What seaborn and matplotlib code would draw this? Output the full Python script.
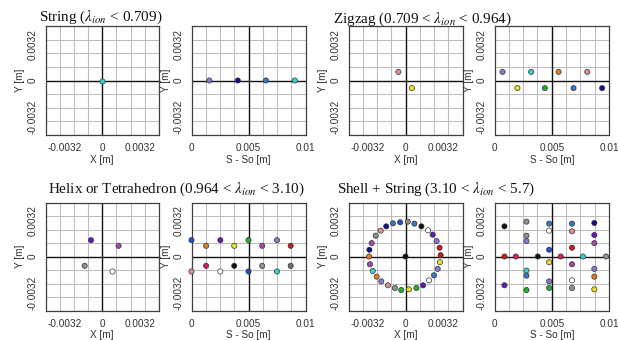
import numpy as np
import pandas as pd
import matplotlib
matplotlib.use("Agg")
import matplotlib.pyplot as plt
from matplotlib.ticker import MultipleLocator, FixedLocator
import seaborn as sns

# ---------------- colours ----------------
palette = {
    "navy": "#10108c", "blue": "#1f4fd0", "steel": "#3478c4", "cyan": "#34d2d2",
    "lavender": "#8878d0", "violet": "#6418b0", "purple": "#a844b0",
    "rose": "#e28c8c", "crimson": "#d2206c", "red": "#d01818",
    "orange": "#e27a20", "yellow": "#e8e020", "green": "#20b030",
    "black": "#101010", "white": "#ffffff", "gray": "#909090", "dgray": "#6e6e6e",
}

titles = ["String", "Zigzag", "Helix or Tetrahedron", "Shell + String"]
title_ranges = [r"($\lambda_{ion}$ < 0.709)", r"(0.709 < $\lambda_{ion}$ < 0.964)",
                r"(0.964 < $\lambda_{ion}$ < 3.10)", r"(3.10 < $\lambda_{ion}$ < 5.7)"]

# ---------------- panel 1: String ----------------
p1_xy_x = [0.0]
p1_xy_y = [0.0]
p1_xy_c = ["cyan"]
p1_s_x = [0.00156, 0.00406, 0.00653, 0.00906]
p1_s_y = [0.0, 0.0, 0.0, 0.0]
p1_s_c = ["lavender", "navy", "steel", "cyan"]

# ---------------- panel 2: Zigzag ----------------
p2_xy_x = [-0.0006, 0.00053]
p2_xy_y = [0.00076, -0.00067]
p2_xy_c = ["rose", "yellow"]
p2_s_x = [0.0007, 0.0020, 0.0032, 0.0044, 0.0056, 0.0069, 0.0081, 0.0094]
p2_s_y = [0.00076, -0.00067, 0.00076, -0.00067, 0.00076, -0.00067, 0.00076, -0.00067]
p2_s_c = ["lavender", "yellow", "cyan", "green", "orange", "steel", "rose", "navy"]

# ---------------- panel 3: Helix ----------------
p3_xy_x = [-0.00095, 0.00138, -0.00149, 0.00087]
p3_xy_y = [0.00145, 0.00095, -0.00083, -0.00133]
p3_xy_c = ["violet", "purple", "gray", "white"]
p3_s_x = [0.0, 0.00253, 0.005, 0.0075,
          0.00128, 0.00375, 0.0062, 0.0087,
          0.00128, 0.00375, 0.0062, 0.0087,
          0.0, 0.00253, 0.005, 0.0075]
p3_s_y = [0.00145, 0.00145, 0.00145, 0.00145,
          0.00095, 0.00095, 0.00095, 0.00095,
          -0.00083, -0.00083, -0.00083, -0.00083,
          -0.00133, -0.00133, -0.00133, -0.00133]
p3_s_c = ["blue", "violet", "green", "lavender",
          "orange", "yellow", "purple", "red",
          "crimson", "black", "gray", "dgray",
          "rose", "white", "blue", "cyan"]

# ---------------- panel 4: Shell + String ----------------
p4_xy_x = [0.000195, 0.00075, 0.00134, 0.0019, 0.00229, 0.00262, 0.00287, 0.00296,
           0.0029, 0.00271, 0.0024, 0.00198, 0.00148, 0.00092, 0.00028, -0.00036,
           -0.00089, -0.00148, -0.00204, -0.00243, -0.00276, -0.00299, -0.00307,
           -0.00304, -0.00285, -0.00251, -0.00209, -0.00162, -0.00106, -0.00045, 0.0]
p4_xy_y = [0.0031, 0.00292, 0.00268, 0.00233, 0.00194, 0.00137, 0.00078, 0.00012,
           -0.00051, -0.0011, -0.00167, -0.00212, -0.00256, -0.0028, -0.00292, -0.00298,
           -0.0028, -0.00256, -0.00221, -0.00179, -0.00128, -0.00069, 0.0,
           0.0006, 0.00119, 0.00185, 0.0023, 0.00268, 0.00295, 0.00304, 0.0]
p4_xy_c = ["gray", "steel", "black", "white", "violet", "lavender", "red", "red",
           "yellow", "lavender", "steel", "white", "violet", "green", "yellow", "green",
           "gray", "rose", "lavender", "orange", "cyan", "purple", "orange",
           "navy", "purple", "gray", "rose", "navy", "steel", "blue", "black"]
p4_s_x = [0.00087, 0.00087, 0.00087,
          0.00186,
          0.00279, 0.00279, 0.00279, 0.00279, 0.00279, 0.00279,
          0.00378,
          0.00477, 0.00477, 0.00477, 0.00477, 0.00477, 0.00477,
          0.00578,
          0.00677, 0.00677, 0.00677, 0.00677, 0.00677, 0.00677,
          0.00773,
          0.00872, 0.00872, 0.00872, 0.00872, 0.00872, 0.00872,
          0.00974]
p4_s_y = [0.00268, 0.0, -0.00256,
          0.0,
          0.0031, 0.00185, 0.00137, -0.00125, -0.0017, -0.00298,
          0.0,
          0.00292, 0.0023, 0.0006, -0.00051, -0.00221, -0.0028,
          0.0,
          0.00292, 0.00224, 0.00078, -0.00069, -0.00212, -0.0028,
          0.0,
          0.00298, 0.00191, 0.00119, -0.0011, -0.00179, -0.00292,
          0.0]
p4_s_c = ["black", "red", "violet",
          "crimson",
          "gray", "gray", "lavender", "cyan", "steel", "green",
          "black",
          "steel", "white", "blue", "yellow", "lavender", "green",
          "crimson",
          "steel", "rose", "red", "purple", "white", "gray",
          "cyan",
          "navy", "violet", "purple", "lavender", "orange", "yellow",
          "gray"]

xy_ticks = [-0.0032, 0.0, 0.0032]
xy_ticklabels = ["-0.0032", "0", "0.0032"]
s_ticks = [0.0, 0.005, 0.01]
s_ticklabels = ["0", "0.005", "0.01"]

panels = [
    (p1_xy_x, p1_xy_y, p1_xy_c, p1_s_x, p1_s_y, p1_s_c),
    (p2_xy_x, p2_xy_y, p2_xy_c, p2_s_x, p2_s_y, p2_s_c),
    (p3_xy_x, p3_xy_y, p3_xy_c, p3_s_x, p3_s_y, p3_s_c),
    (p4_xy_x, p4_xy_y, p4_xy_c, p4_s_x, p4_s_y, p4_s_c),
]

# ---------------- style ----------------
sns.set_theme(style="white")
plt.rcParams["font.family"] = ["Liberation Sans", "DejaVu Sans"]
plt.rcParams["mathtext.fontset"] = "stix"

W, H = 618, 340
fig = plt.figure(figsize=(W / 100, H / 100), dpi=100)
fig.patch.set_facecolor("white")

def rect(l, t, r, b):
    return [l / W, 1 - b / H, (r - l) / W, (b - t) / H]

# axes pixel boxes: (xy box, s box)
boxes = [
    ((45.5, 26, 159, 135), (191.5, 26, 305.5, 135)),
    ((348.5, 26, 462.5, 135), (494.5, 26, 609, 135)),
    ((45.5, 202.5, 159, 310.5), (191.5, 202.5, 305.5, 310.5)),
    ((348.5, 202.5, 462.5, 310.5), (494.5, 202.5, 609, 310.5)),
]
title_pos = [(39, 20.5), (333, 23), (48, 192.5), (337, 192.5)]

tick_color = "#303030"
lim = 0.0048

def style_axes(ax, xlim, xmajor, xlabels, xminor, xcenter, xlabel):
    ax.set_xlim(*xlim)
    ax.set_ylim(-lim, lim)
    ax.xaxis.set_major_locator(FixedLocator(xmajor))
    ax.set_xticklabels(xlabels)
    ax.xaxis.set_minor_locator(MultipleLocator(xminor))
    ax.yaxis.set_major_locator(FixedLocator(xy_ticks))
    ax.set_yticklabels(xy_ticklabels)
    ax.yaxis.set_minor_locator(MultipleLocator(0.0012))
    ax.grid(False, which="major")
    ax.grid(True, which="minor", color="#bdbdbd", linewidth=0.8, zorder=0)
    ax.set_axisbelow(True)
    ax.axhline(0, color="#111111", linewidth=1.0, zorder=1.5)
    ax.axvline(xcenter, color="#111111", linewidth=1.0, zorder=1.5)
    ax.tick_params(which="both", length=0, labelsize=7.2, labelcolor=tick_color)
    ax.tick_params(axis="x", pad=6)
    ax.tick_params(axis="y", pad=5.5)
    for lab in ax.get_yticklabels():
        lab.set_rotation(90)
        lab.set_va("center")
    ax.set_xlabel(xlabel, fontsize=7.2, color=tick_color, labelpad=1)
    ax.set_ylabel("Y [m]", fontsize=7.2, color=tick_color, labelpad=2)
    for sp in ax.spines.values():
        sp.set_visible(True)
        sp.set_color("#404040")
        sp.set_linewidth(0.9)
    ax.set_facecolor("white")

def scatter(ax, xs, ys, cs):
    df = pd.DataFrame({"x": xs, "y": ys, "c": cs})
    sns.scatterplot(data=df, x="x", y="y", hue="c", palette=palette, ax=ax,
                    legend=False, s=14, edgecolor="#333333", linewidth=0.5,
                    zorder=3, clip_on=False)

for i, (xyx, xyy, xyc, sx, sy, sc) in enumerate(panels):
    bxy, bs = boxes[i]
    ax1 = fig.add_axes(rect(*bxy))
    scatter(ax1, xyx, xyy, xyc)
    style_axes(ax1, (-lim, lim), xy_ticks, xy_ticklabels, 0.0012, 0.0, "X [m]")

    ax2 = fig.add_axes(rect(*bs))
    scatter(ax2, sx, sy, sc)
    style_axes(ax2, (0, 0.01), s_ticks, s_ticklabels, 0.00125, 0.005, "S - So [m]")

    tx, ty = title_pos[i]
    fig.text(tx / W, 1 - ty / H, titles[i] + " " + title_ranges[i],
             fontsize=10.9, family=["Liberation Serif", "DejaVu Serif"],
             ha="left", va="baseline", color="#111111")

fig.savefig("out.png", dpi=100, facecolor="white")
